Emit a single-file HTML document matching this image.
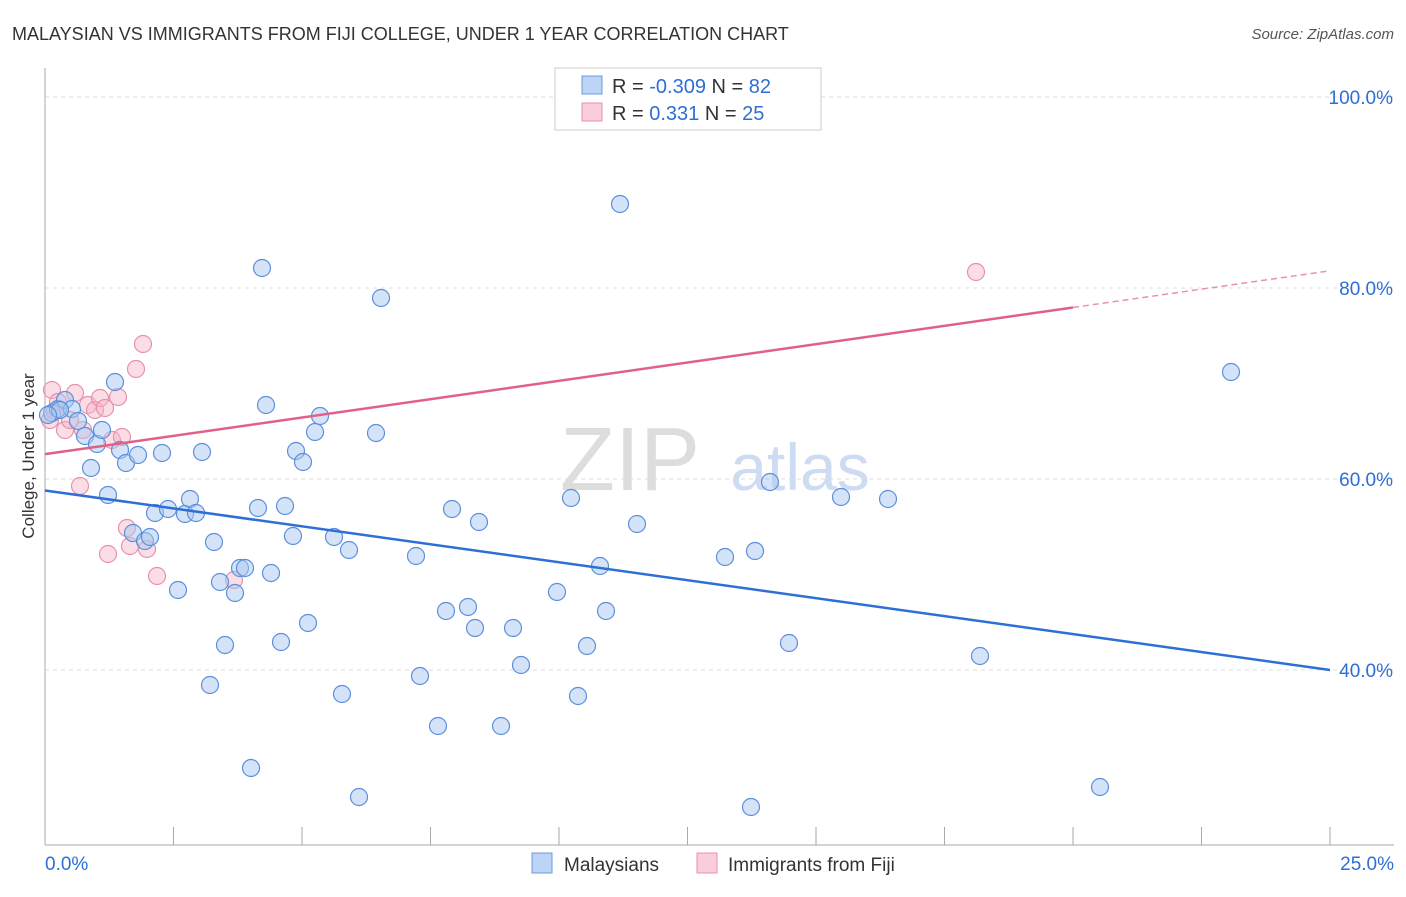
<!DOCTYPE html>
<html><head><meta charset="utf-8"><style>
body{margin:0;background:#fff;font-family:"Liberation Sans",sans-serif;}
svg text{font-family:"Liberation Sans",sans-serif;}
</style></head><body>
<svg id="c" width="1406" height="892">
<text x="12" y="40" font-size="18" fill="#333">MALAYSIAN VS IMMIGRANTS FROM FIJI COLLEGE, UNDER 1 YEAR CORRELATION CHART</text>
<text x="1394" y="39" font-size="15" fill="#555" font-style="italic" text-anchor="end">Source: ZipAtlas.com</text>
<text x="34" y="456" font-size="17" fill="#333" text-anchor="middle" transform="rotate(-90 34 456)">College, Under 1 year</text>
<text x="630" y="490" font-size="90" fill="#ddd" font-family="Liberation Serif" text-anchor="middle">ZIP</text>
<text x="800" y="490" font-size="66" fill="#cddcf2" text-anchor="middle">atlas</text>
<g id="grid"></g><g id="pts"></g><g id="lines"></g>
<g>
<rect x="555" y="68" width="266" height="62" fill="#fff" stroke="#ccc"/>
<rect x="582" y="76" width="20" height="18" fill="#bcd4f5" stroke="#6d9ae0"/>
<rect x="582" y="103" width="20" height="18" fill="#f9cdd9" stroke="#e891ac"/>
<text x="612" y="93" font-size="20" fill="#333">R = <tspan fill="#2d6fd6">-0.309</tspan>   N = <tspan fill="#2d6fd6">82</tspan></text>
<text x="612" y="120" font-size="20" fill="#333">R =   <tspan fill="#2d6fd6">0.331</tspan>   N = <tspan fill="#2d6fd6">25</tspan></text>
</g>
<g>
<rect x="532" y="853" width="20" height="20" fill="#bcd4f5" stroke="#6d9ae0"/>
<text x="564" y="871" font-size="19" fill="#333">Malaysians</text>
<rect x="697" y="853" width="20" height="20" fill="#f9cdd9" stroke="#e891ac"/>
<text x="728" y="871" font-size="19" fill="#333">Immigrants from Fiji</text>
</g>
</svg>
<script>
const yTicks=[100,80,60,40];
const xTickLabels=["0.0%","25.0%"];
const blue=[[52,413],[58,409],[65,400],[72,409],[78,421],[85,436],[91,468],[97,444],[102,430],[108,495],[115,382],[120,450],[126,463],[133,533],[138,455],[145,541],[150,537],[155,513],[162,453],[168,509],[178,590],[185,514],[190,499],[196,513],[202,452],[214,542],[220,582],[225,645],[235,593],[240,568],[245,568],[210,685],[251,768],[258,508],[262,268],[266,405],[271,573],[281,642],[285,506],[293,536],[296,451],[303,462],[308,623],[315,432],[320,416],[334,537],[342,694],[349,550],[359,797],[376,433],[381,298],[416,556],[420,676],[438,726],[446,611],[452,509],[468,607],[475,628],[479,522],[501,726],[513,628],[521,665],[557,592],[571,498],[578,696],[587,646],[600,566],[606,611],[620,204],[637,524],[725,557],[751,807],[755,551],[770,482],[789,643],[841,497],[888,499],[980,656],[1100,787],[1231,372],[60,410],[48,415]].map(p=>[(p[0]-45)/51.4,100-(p[1]-97)/9.55]);
const pink=[[52,390],[50,420],[58,402],[65,430],[75,393],[80,486],[83,430],[88,405],[95,410],[100,398],[105,408],[108,554],[112,440],[118,397],[122,437],[127,528],[130,546],[136,369],[143,344],[147,549],[157,576],[234,580],[976,272],[70,420],[55,411]].map(p=>[(p[0]-45)/51.4,100-(p[1]-97)/9.55]);
const blueFit=[58.8,40.0];
const pinkFit=[62.6,81.8];
const X=v=>45+v*51.4, Y=v=>97+(100-v)*9.55;
const NS="http://www.w3.org/2000/svg";
function mk(t,a,p){const e=document.createElementNS(NS,t);for(const k in a)e.setAttribute(k,a[k]);p.appendChild(e);return e;}
const g=document.getElementById('grid');
yTicks.forEach(v=>{
 const l=mk('line',{x1:45,x2:1394,y1:Y(v),y2:Y(v),stroke:'#ddd','stroke-dasharray':'4 4'},g);
 
 
 const t=mk('text',{x:1393,y:Y(v)+7,'font-size':19,fill:'#2d6fd6','text-anchor':'end'},g);
 t.textContent=v.toFixed(1)+'%';
 
 
});
const ax=mk('line',{x1:45,x2:45,y1:68,y2:845,stroke:'#aaa'},g);


const bx=mk('line',{x1:45,x2:1394,y1:845,y2:845,stroke:'#aaa'},g);


for(let i=0;i<=10;i++){const tk=mk('line',{x1:X(i*2.5),x2:X(i*2.5),y1:827,y2:845,stroke:'#aaa'},g);
 
 }
[[0,'start',45],[25,'end',1394]].forEach((d,i)=>{const t=mk('text',{x:d[2],y:870,'font-size':19,fill:'#2d6fd6','text-anchor':d[1]},g);t.textContent=xTickLabels[i];
 
 });
const pg=document.getElementById('pts');
pink.forEach(p=>{const c=mk('circle',{cx:X(p[0]),cy:Y(p[1]),r:8.5,fill:'rgba(246,180,200,0.45)',stroke:'#e891ac','stroke-width':1.2},pg);
 
 });
blue.forEach(p=>{const c=mk('circle',{cx:X(p[0]),cy:Y(p[1]),r:8.5,fill:'rgba(170,200,240,0.5)',stroke:'#5b8fdc','stroke-width':1.2},pg);
 
 });
const lg=document.getElementById('lines');
const bl=mk('line',{x1:X(0),y1:Y(blueFit[0]),x2:X(25),y2:Y(blueFit[1]),stroke:'#2d6fd6','stroke-width':2.5},lg);


const pm=pinkFit[0]+(pinkFit[1]-pinkFit[0])*0.8;
const pl=mk('line',{x1:X(0),y1:Y(pinkFit[0]),x2:X(20),y2:Y(pm),stroke:'#e0608a','stroke-width':2.5},lg);


const pd=mk('line',{x1:X(20),y1:Y(pm),x2:X(25),y2:Y(pinkFit[1]),stroke:'#e891ac','stroke-width':1.5,'stroke-dasharray':'6 4'},lg);


</script>
</body></html>
